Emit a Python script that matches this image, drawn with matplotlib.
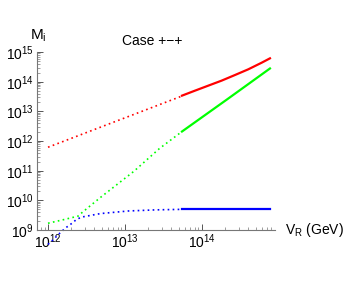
import matplotlib

matplotlib.use("Agg")
import matplotlib.pyplot as plt
from matplotlib.ticker import LogLocator, LogFormatterSciNotation, NullFormatter

plt.rcParams["font.family"] = ["Liberation Sans", "DejaVu Sans"]
plt.rcParams["mathtext.default"] = "regular"

# ---------------------------------------------------------------------------
# Curves (V_R in GeV, M_i in GeV)
# ---------------------------------------------------------------------------
red_dot_x = [1e12, 5.5e13]
red_dot_y = [6.2e11, 3.3e13]
red_x = [5.5e13, 8.1e13, 1.21e14, 1.8e14, 2.69e14, 3.99e14, 5.96e14, 7.64e14]
red_y = [3.4e13, 5.0e13, 7.4e13, 1.09e14, 1.69e14, 2.62e14, 4.38e14, 6.15e14]

green_dot_x = [1e12, 1.6e12, 2.45e12, 2.8e12, 4.8e12, 1.3e13, 2.8e13, 5.5e13]
green_dot_y = [1.7e9, 2.25e9, 2.95e9, 4.0e9, 1.26e10, 9.5e10, 5.6e11, 2.1e12]
green_x = [5.5e13, 2.1e14, 7.64e14]
green_y = [2.1e12, 2.5e13, 2.8e14]

blue_dot_x = [1e12, 1.12e12, 1.5e12, 1.75e12, 2.05e12, 2.35e12, 2.75e12, 4.8e12, 1.1e13, 2.5e13, 5.5e13]
blue_dot_y = [3.3e8, 4.3e8, 9.0e8, 1.26e9, 1.7e9, 2.3e9, 2.75e9, 3.6e9, 4.4e9, 4.8e9, 5.0e9]
blue_x = [5.5e13, 7.64e14]
blue_y = [5.0e9, 5.0e9]

fig = plt.figure(figsize=(3.54, 2.83), dpi=100)
ax = fig.add_axes([0.1037, 0.187, 0.673, 0.629])

dots = (0, (1, 2))
ax.plot(red_dot_x, red_dot_y, color="#ff0000", lw=1.2, ls=dots)
ax.plot(red_x, red_y, color="#ff0000", lw=1.6)
ax.plot(green_dot_x, green_dot_y, color="#00ff00", lw=1.2, ls=dots)
ax.plot(green_x, green_y, color="#00ff00", lw=1.6)
ax.plot(blue_dot_x, blue_dot_y, color="#0000ff", lw=1.2, ls=dots, clip_on=False)
ax.plot(blue_x, blue_y, color="#0000ff", lw=1.6)

ax.set_xscale("log")
ax.set_yscale("log")
ax.set_xlim(10**11.853, 10**14.948)
ax.set_ylim(1e9, 1e15)

for side in ("top", "right"):
    ax.spines[side].set_visible(False)
for side in ("left", "bottom"):
    ax.spines[side].set_color("#777777")
    ax.spines[side].set_linewidth(0.8)

for axis in (ax.xaxis, ax.yaxis):
    axis.set_major_locator(LogLocator(base=10, numticks=20))
    axis.set_minor_locator(LogLocator(base=10, subs=range(2, 10), numticks=20))
    axis.set_major_formatter(LogFormatterSciNotation())
    axis.set_minor_formatter(NullFormatter())

ax.tick_params(which="major", direction="in", length=4, width=0.7,
               color="#555555", labelsize=10, pad=2)
ax.tick_params(which="minor", direction="in", length=2, width=0.5,
               color="#777777")

fig.text(0.085, 0.845, "M$_{i}$", fontsize=11, ha="left", va="bottom")
fig.text(0.43, 0.855, "Case +\u2212+", fontsize=10, ha="center", va="center")
fig.text(0.805, 0.187, "V$_{R}$ (GeV)", fontsize=10, ha="left", va="center")

fig.savefig("out.png", dpi=100)
